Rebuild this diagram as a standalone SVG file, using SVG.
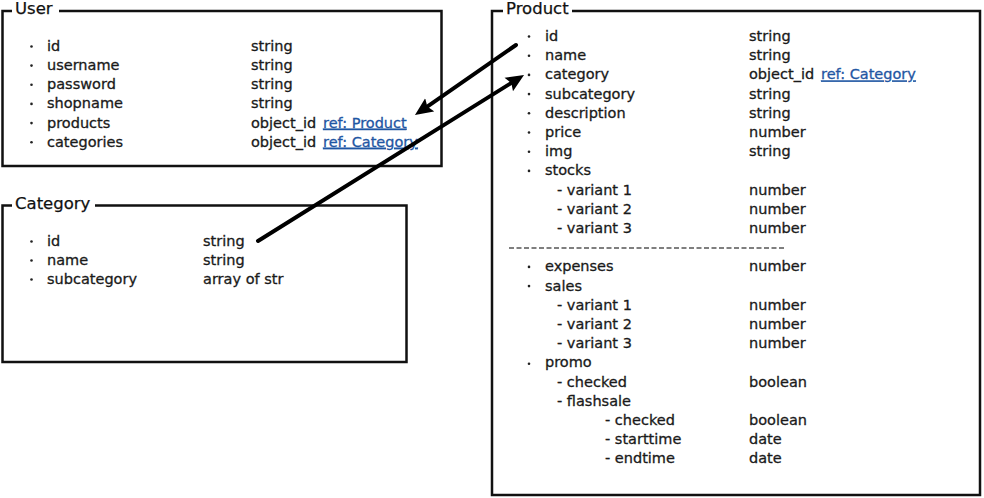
<svg xmlns="http://www.w3.org/2000/svg" width="984" height="498" viewBox="0 0 984 498">
<style>
.box{fill:#fff;stroke:#111;stroke-width:2.5}
.gap{fill:#fff}
.title{font-family:"DejaVu Sans",sans-serif;font-size:16.5px;fill:#111;stroke:#111;stroke-width:0.25}
.t{font-family:"DejaVu Sans",sans-serif;font-size:14.5px;fill:#1a1a1a;stroke:#1a1a1a;stroke-width:0.3}
.link{fill:#1f56a3;stroke:#1f56a3;text-decoration:underline}
.dot{fill:#222}
.conn{stroke:#000;stroke-width:4;fill:none;stroke-linecap:round}
.sep{stroke:#555;stroke-width:1.6;stroke-dasharray:5 2.5}
</style>
<defs>
<marker id="ah" viewBox="0 0 18 18" refX="7" refY="9" markerWidth="18" markerHeight="18" markerUnits="userSpaceOnUse" orient="auto">
<path d="M0,1 L18,9 L0,17 L3,9 z" fill="#000"/>
</marker>
</defs>
<rect width="984" height="498" fill="#fff"/>

<g id="user">
<rect class="box" x="2.5" y="11" width="439" height="155"/>
<rect class="gap" x="12" y="2" width="47" height="14"/>
<text class="title" x="15" y="14">User</text>
<g class="dot"><circle cx="31.5" cy="46.5" r="1.3"/><circle cx="31.5" cy="65.6" r="1.3"/><circle cx="31.5" cy="84.8" r="1.3"/><circle cx="31.5" cy="103.9" r="1.3"/><circle cx="31.5" cy="123.1" r="1.3"/><circle cx="31.5" cy="142.2" r="1.3"/></g>
<text class="t" x="47" y="51">id</text>
<text class="t" x="47" y="70.1">username</text>
<text class="t" x="47" y="89.3">password</text>
<text class="t" x="47" y="108.4">shopname</text>
<text class="t" x="47" y="127.6">products</text>
<text class="t" x="47" y="146.7">categories</text>
<text class="t" x="251" y="51">string</text>
<text class="t" x="251" y="70.1">string</text>
<text class="t" x="251" y="89.3">string</text>
<text class="t" x="251" y="108.4">string</text>
<text class="t" x="251" y="127.6">object_id <tspan class="link" x="323">ref: Product</tspan></text>
<text class="t" x="251" y="146.7">object_id <tspan class="link" x="323">ref: Category</tspan></text>
</g>

<g id="category">
<rect class="box" x="2.5" y="205.5" width="404" height="156.5"/>
<rect class="gap" x="12" y="195" width="83" height="14"/>
<text class="title" x="15" y="209">Category</text>
<g class="dot"><circle cx="31.5" cy="241.5" r="1.3"/><circle cx="31.5" cy="260.5" r="1.3"/><circle cx="31.5" cy="279.5" r="1.3"/></g>
<text class="t" x="47" y="246">id</text>
<text class="t" x="47" y="265">name</text>
<text class="t" x="47" y="284">subcategory</text>
<text class="t" x="203" y="246">string</text>
<text class="t" x="203" y="265">string</text>
<text class="t" x="203" y="284">array of str</text>
</g>

<g id="product">
<rect class="box" x="492" y="11" width="488" height="484"/>
<rect class="gap" x="503" y="2" width="69" height="14"/>
<text class="title" x="506" y="14">Product</text>
<g class="dot">
<circle cx="529" cy="36.5" r="1.3"/><circle cx="529" cy="55.7" r="1.3"/><circle cx="529" cy="74.9" r="1.3"/><circle cx="529" cy="94.1" r="1.3"/><circle cx="529" cy="113.3" r="1.3"/><circle cx="529" cy="132.5" r="1.3"/><circle cx="529" cy="151.7" r="1.3"/><circle cx="529" cy="170.9" r="1.3"/>
<circle cx="529" cy="266.9" r="1.3"/><circle cx="529" cy="286.1" r="1.3"/><circle cx="529" cy="363.7" r="1.3"/>
</g>
<text class="t" x="545" y="41">id</text>
<text class="t" x="545" y="60.2">name</text>
<text class="t" x="545" y="79.4">category</text>
<text class="t" x="545" y="98.6">subcategory</text>
<text class="t" x="545" y="117.8">description</text>
<text class="t" x="545" y="137">price</text>
<text class="t" x="545" y="156.2">img</text>
<text class="t" x="545" y="175.4">stocks</text>
<text class="t" x="557" y="194.6">- variant 1</text>
<text class="t" x="557" y="213.8">- variant 2</text>
<text class="t" x="557" y="233">- variant 3</text>
<text class="t" x="749" y="41">string</text>
<text class="t" x="749" y="60.2">string</text>
<text class="t" x="749" y="79.4">object_id <tspan class="link" x="821">ref: Category</tspan></text>
<text class="t" x="749" y="98.6">string</text>
<text class="t" x="749" y="117.8">string</text>
<text class="t" x="749" y="137">number</text>
<text class="t" x="749" y="156.2">string</text>
<text class="t" x="749" y="194.6">number</text>
<text class="t" x="749" y="213.8">number</text>
<text class="t" x="749" y="233">number</text>
<line class="sep" x1="509" y1="248" x2="784" y2="248"/>
<text class="t" x="545" y="271.4">expenses</text>
<text class="t" x="545" y="290.6">sales</text>
<text class="t" x="557" y="309.8">- variant 1</text>
<text class="t" x="557" y="329">- variant 2</text>
<text class="t" x="557" y="348.2">- variant 3</text>
<text class="t" x="545" y="367.4">promo</text>
<text class="t" x="557" y="386.6">- checked</text>
<text class="t" x="557" y="405.8">- flashsale</text>
<text class="t" x="605" y="425">- checked</text>
<text class="t" x="605" y="444.2">- starttime</text>
<text class="t" x="605" y="463.4">- endtime</text>
<text class="t" x="749" y="271.4">number</text>
<text class="t" x="749" y="309.8">number</text>
<text class="t" x="749" y="329">number</text>
<text class="t" x="749" y="348.2">number</text>
<text class="t" x="749" y="386.6">boolean</text>
<text class="t" x="749" y="425">boolean</text>
<text class="t" x="749" y="444.2">date</text>
<text class="t" x="749" y="463.4">date</text>
</g>

<g id="connectors">
<line class="conn" x1="516" y1="45" x2="424" y2="108.8" marker-end="url(#ah)"/>
<line class="conn" x1="258" y1="241" x2="514.7" y2="80.8" marker-end="url(#ah)"/>
</g>
</svg>
